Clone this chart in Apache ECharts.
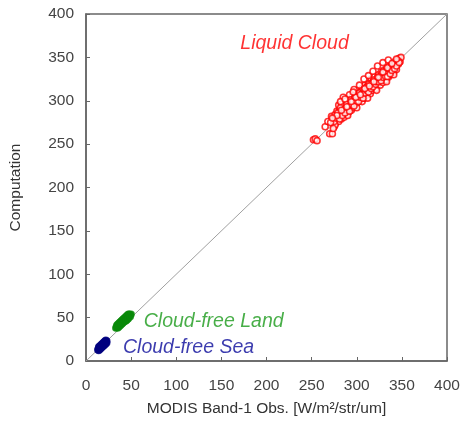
<!DOCTYPE html>
<html><head><meta charset="utf-8">
<script src="https://cdn.jsdelivr.net/npm/echarts@6/dist/echarts.min.js"></script>
<style>html,body{margin:0;padding:0;background:#fff}#c{width:464px;height:423px}</style>
</head><body><div id="c"></div>
<script>
var xTicks = [0, 50, 100, 150, 200, 250, 300, 350, 400];
var yTicks = [0, 50, 100, 150, 200, 250, 300, 350, 400];
var liquidCloud = [[252,255],[254,256],[256,254],[265,270],[268,276],[270,262],[272,282],[274,278],[275,270],[276,284],[277,275],[278,288],[279,281],[280,276],[281,290],[282,285],[283,279],[284,292],[285,304],[285,287],[286,281],[287,295],[288,290],[289,284],[290,298],[290,292],[291,287],[292,300],[293,295],[294,289],[295,305],[295,298],[296,292],[297,302],[298,296],[299,308],[300,303],[300,297],[301,312],[302,306],[303,300],[304,310],[305,304],[306,314],[306,299],[307,309],[308,303],[309,318],[310,312],[310,306],[311,316],[312,309],[313,320],[314,314],[315,308],[316,325],[316,318],[317,312],[318,322],[319,316],[320,328],[320,320],[321,314],[322,325],[323,319],[324,330],[325,323],[326,318],[327,333],[328,327],[329,321],[330,335],[331,329],[332,324],[333,337],[334,331],[335,327],[336,340],[337,334],[338,330],[339,342],[340,337],[341,333],[342,345],[343,340],[344,336],[345,347],[346,342],[347,349],[348,345],[349,350],[280,295],[283,296],[288,300],[292,307],[297,313],[303,318],[308,325],[313,329],[318,334],[323,340],[329,344],[335,347],[276,272],[290,283],[300,292],[312,303],[322,312],[333,322],[341,330],[273,262],[275,276],[280,281],[285,285],[290,290],[295,295],[300,300],[305,306],[310,310],[315,315],[320,321],[325,325],[330,330],[335,336],[340,340],[345,345],
  [277,280],[279,286],[281,279],[282,292],[284,283],[286,290],[287,286],[289,296],[291,293],[292,288],[293,301],[294,296],[296,299],[297,294],[298,304],[299,300],[301,305],[302,299],[303,309],[304,304],[306,308],[307,303],[308,313],[309,309],[311,312],[312,316],[313,310],[314,319],[316,314],[317,320],[318,316],[319,324],[321,319],[322,322],[323,327],[324,322],[326,326],[327,323],[328,331],[329,327],[331,332],[332,328],[333,334],[334,328],[336,336],[337,331],[338,338],[339,335],[341,341],[342,337],[343,343],[344,340],[346,346],[347,344],[278,283],[283,289],[289,293],[294,299],[299,304],[304,307],[309,314],[314,317],[319,322],[324,327],[329,333],[334,338],[339,343],[344,348],[271,275],[273,280],[274,268],[282,299],[287,302],[296,310]];
var cloudFreeLand = [[33,38],[34,39],[35,40],[36,41],[37,42],[38,43],[39,44],[40,45],[41,46],[42,47],[43,48],[44,48],[45,50],[46,51],[47,52],[48,52],[49,53],[36,39],[38,41],[40,43],[42,45],[44,46],[46,48],[37,44],[39,46],[41,48],[43,50],[45,52],[47,54],[35,42],[34,41],[36,43],[38,45],[40,47],[42,49],[44,51],[46,53],[48,54],[50,54],[35,38],[37,40],[39,42],[41,44],[43,46],[45,47],[47,49],[49,51]];
var cloudFreeSea = [[14,14],[15,15],[16,16],[17,17],[18,18],[19,19],[20,20],[21,21],[22,22],[15,17],[17,19],[19,21],[16,14],[18,16],[20,18],[21,23],[14,16],[22,20],[13,13],[14,12],[16,18],[18,20],[20,22],[23,23],[15,13],[17,15],[19,17],[21,19],[23,21],[22,24]];
var oneToOne = [[0,0],[400,400]];
var labels = [
  {name:'Liquid Cloud', coord:[171,366], color:'#ff0000'},
  {name:'Cloud-free Land', coord:[64,45], color:'#1a9a1a'},
  {name:'Cloud-free Sea', coord:[41,15], color:'#0a0a9a'}
];
var font = 'Liberation Sans, Arial, sans-serif';
var chart = echarts.init(document.getElementById('c'));
function axis(name, ticks) {
  return {
    type:'value', min:0, max:400, interval:50,
    name:name, nameLocation:'middle',
    nameTextStyle:{color:'#333', fontSize:15.5, fontFamily:font},
    axisLine:{show:true, lineStyle:{color:'#666', width:1.5}},
    axisTick:{show:true, inside:true, length:4, lineStyle:{color:'#666'}},
    axisLabel:{color:'#444', fontSize:15.5, fontFamily:font,
      formatter:function(v){return ticks.indexOf(v)>=0?String(v):'';}},
    splitLine:{show:false}
  };
}
var xa = axis('MODIS Band-1 Obs. [W/m²/str/um]', xTicks);
xa.nameGap = 40; xa.axisLabel.margin = 17;
var ya = axis('Computation', yTicks);
ya.nameGap = 62; ya.axisLabel.margin = 12;
chart.setOption({
  animation:false,
  grid:{left:85, top:14, right:17, bottom:62, show:true, borderColor:'#666', borderWidth:1.5},
  xAxis: xa,
  yAxis: ya,
  series:[
    {type:'line', data:oneToOne, symbol:'none', lineStyle:{color:'#a0a0a0', width:1}, silent:true, z:1},
    {type:'scatter', data:liquidCloud, symbol:'circle', symbolSize:6,
      itemStyle:{color:'#fff', borderColor:'#ff0000', borderWidth:1.6}, z:3},
    {type:'scatter', data:cloudFreeLand, symbol:'circle', symbolSize:6,
      itemStyle:{color:'#0a8a0a', borderColor:'#0a8a0a', borderWidth:1.5}, z:3},
    {type:'scatter', data:cloudFreeSea, symbol:'circle', symbolSize:6,
      itemStyle:{color:'#000080', borderColor:'#000080', borderWidth:1.5}, z:3},
    {type:'scatter', symbolSize:0, z:4, silent:true,
      data: labels.map(function(l){return {value:l.coord, name:l.name,
        label:{show:true, position:'right', distance:0, formatter:l.name, color:l.color,
          fontSize:19.5, fontStyle:'italic', fontFamily:font}};})}
  ]
});
</script></body></html>
